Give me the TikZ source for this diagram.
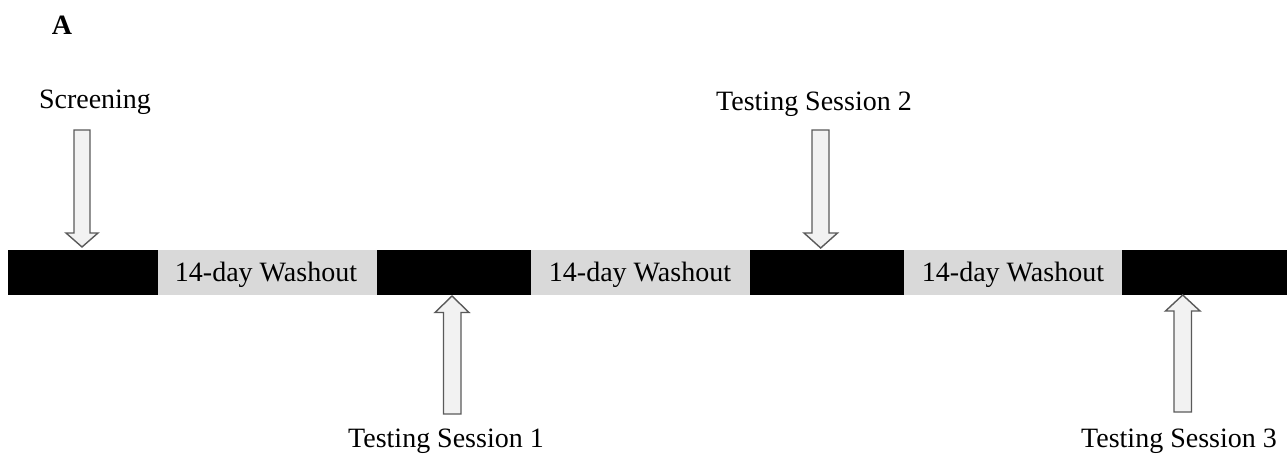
\documentclass[tikz,border=0pt]{standalone}
\usepackage{fontspec}
\setmainfont{Liberation Serif}
\begin{document}
\begin{tikzpicture}[x=1pt,y=-1pt,
  lbl/.style={font=\fontsize{28}{32}\selectfont, inner sep=0pt, anchor=base},
  seg/.style={draw=none, fill=black, minimum height=45pt, inner sep=0pt, anchor=north west},
  washbox/.style={fill=washgray, minimum height=45pt, inner sep=0pt, anchor=north west, font=\fontsize{28}{32}\selectfont},
  arr/.style={draw=arrgray, fill=arrfill, line width=1.4pt, line join=miter}]
\definecolor{washgray}{HTML}{D9D9D9}
\definecolor{arrgray}{HTML}{5A5A5A}
\definecolor{arrfill}{HTML}{F2F2F2}
\useasboundingbox (0,0) rectangle (1287,454);
% title
\node[lbl, font=\fontsize{28}{32}\selectfont\bfseries] (title) at (62,35) {A};
% timeline bar
\node[seg, minimum width=1279pt] (bar) at (8,250) {};
\node[washbox, minimum width=219pt] (w1) at (158,250) {};
\node[washbox, minimum width=219pt] (w2) at (531,250) {};
\node[washbox, minimum width=218pt] (w3) at (904,250) {};
\node[lbl] (w1t) at (266,282) {14-day Washout};
\node[lbl] (w2t) at (640,282) {14-day Washout};
\node[lbl] (w3t) at (1013,282) {14-day Washout};
% labels
\node[lbl] (scr) at (95,109) {Screening};
\node[lbl] (ts2) at (814,111) {Testing Session 2};
\node[lbl] (ts1) at (446,447) {Testing Session 1};
\node[lbl] (ts3) at (1179,447) {Testing Session 3};
% down arrows
\draw[arr] (74,130) -- (90,130) -- (90,233) -- (98,233) -- (82,247) -- (66,233) -- (74,233) -- cycle;
\draw[arr] (812,130) -- (829,130) -- (829,233) -- (837.5,233) -- (820.7,248) -- (804,233) -- (812,233) -- cycle;
% up arrows
\draw[arr] (443.5,414) -- (461,414) -- (461,312.5) -- (469,312.5) -- (452,296) -- (435,312.5) -- (443.5,312.5) -- cycle;
\draw[arr] (1174,412) -- (1191.5,412) -- (1191.5,311) -- (1200,311) -- (1182.7,295) -- (1165.5,311) -- (1174,311) -- cycle;
\end{tikzpicture}
\end{document}
